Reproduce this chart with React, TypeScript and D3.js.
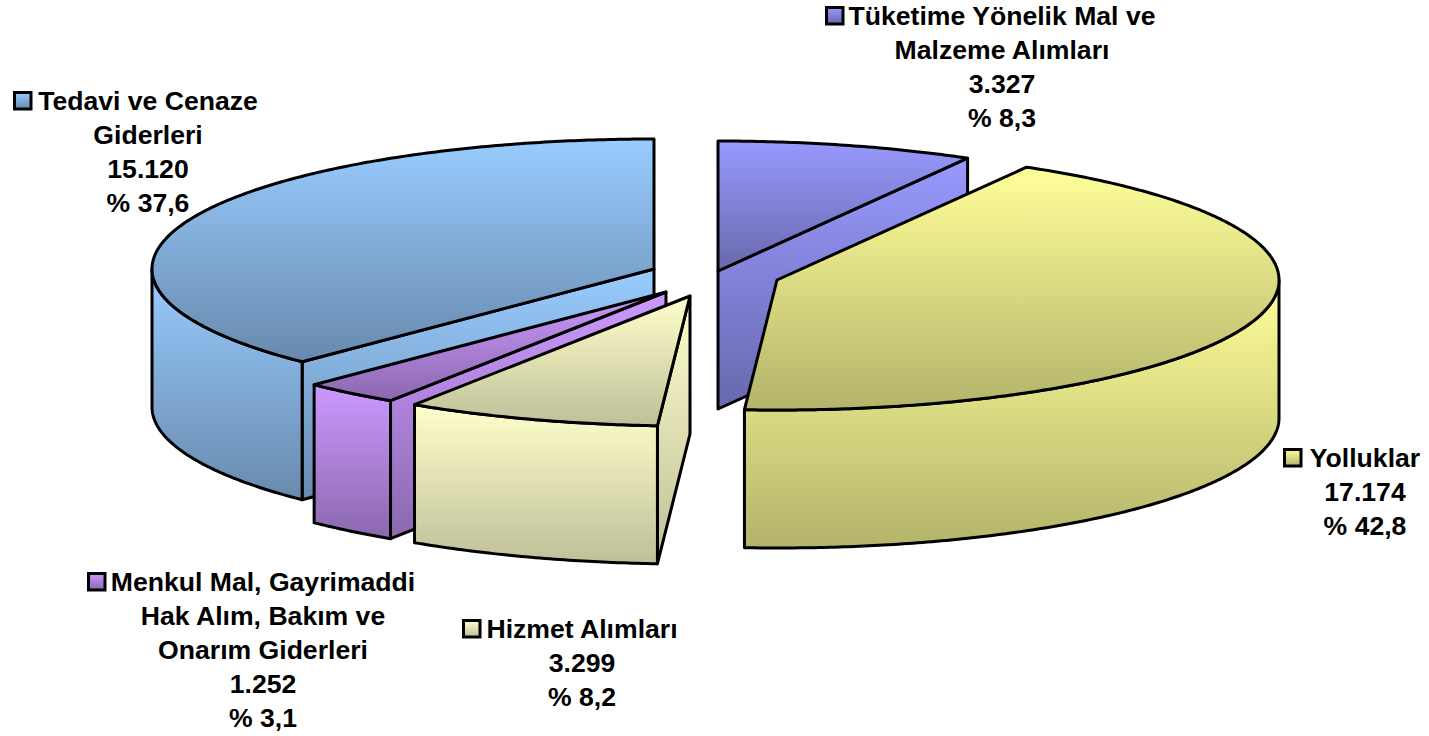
import React, {useRef, useEffect} from 'react';
import * as d3 from 'd3';

// chart values, in pie order (clockwise from 12 o'clock)
const categories = ['Tüketime Yönelik Mal ve Malzeme Alımları', 'Yolluklar', 'Hizmet Alımları', 'Menkul Mal, Gayrimaddi Hak Alım, Bakım ve Onarım Giderleri', 'Tedavi ve Cenaze Giderleri'];
const values = [3327, 17174, 3299, 1252, 15120];
const nameLines = [
    ['Tüketime Yönelik Mal ve', 'Malzeme Alımları'],
    ['Yolluklar'],
    ['Hizmet Alımları'],
    ['Menkul Mal, Gayrimaddi', 'Hak Alım, Bakım ve', 'Onarım Giderleri'],
    ['Tedavi ve Cenaze', 'Giderleri'],
];

// colours of the slices, top and bottom of the gradient
const colors = ['#9999FF', '#FFFF99', '#FFFFCC', '#CC99FF', '#99CCFF'];
const shades = ['#6868AD', '#B3B36B', '#BFBF99', '#8B68AE', '#6889AD'];

// each slice was pulled out by hand in the original, so the apex differs
const apexes = [[718, 271], [777, 280], [690, 296], [666, 292], [654, 269]];
// label: centre x, first baseline, legend key x
const labelPos = [[1002, 24, 826.5], [1365, 466, 1284.5], [582, 637, 463.5], [263, 590, 88.5], [148, 109, 14.5]];

const width = 1429, height = 736;
const rx = 502, ry = 130, depth = 138;
const lineHeight = 34;
const textDrop = 0.8;
const drawOrder = [0, 4, 1, 3, 2];

const trFormat = d3.formatLocale({decimal: ',', thousands: '.', grouping: [3], currency: ['', '']});

const App = () => {
    const svgRef = useRef<SVGSVGElement>(null);

    useEffect(() => {
        const svg = d3.select(svgRef.current);
        svg.selectAll('*').remove();

        const total = d3.sum(values);
        const arcs = d3.pie<number>().sort(null).startAngle(0).endAngle(2 * Math.PI)(values);
        const line = d3.line().curve(d3.curveLinear);
        const fmtValue = trFormat.format(',d');
        const fmtPct = trFormat.format('.1f');

        // vertical gradient for every slice
        const defs = svg.append('defs');
        colors.forEach((c, i) => {
            const grad = defs.append('linearGradient')
                .attr('id', 'grad' + i)
                .attr('x1', 0).attr('y1', 0).attr('x2', 0).attr('y2', 1);
            grad.append('stop').attr('offset', '0%').attr('stop-color', c);
            grad.append('stop').attr('offset', '100%').attr('stop-color', shades[i]);
        });

        const project = (i: number, a: number, drop = 0): [number, number] => [
            apexes[i][0] + rx * Math.sin(a),
            apexes[i][1] - ry * Math.cos(a) + drop,
        ];

        const sample = (a0: number, a1: number) => {
            const n = Math.max(2, Math.ceil((a1 - a0) / 0.01));
            return d3.range(n + 1).map(k => a0 + (a1 - a0) * k / n);
        };

        const face = (i: number, pts: [number, number][]) => {
            svg.append('path')
                .attr('d', line(pts) + 'Z')
                .attr('fill', `url(#grad${i})`)
                .attr('stroke', '#000')
                .attr('stroke-width', 3)
                .attr('stroke-linejoin', 'round');
        };

        drawOrder.forEach(i => {
            const {startAngle: a0, endAngle: a1} = arcs[i];
            const apex = apexes[i] as [number, number];
            const down = (p: [number, number]): [number, number] => [p[0], p[1] + depth];

            // cut walls, only the ones turned to the viewer
            if (Math.sin(a0) < -1e-6) {
                const p = project(i, a0);
                face(i, [apex, p, down(p), down(apex)]);
            }
            if (Math.sin(a1) > 1e-6) {
                const p = project(i, a1);
                face(i, [apex, p, down(p), down(apex)]);
            }

            // outer wall, front half of the ellipse only
            const from = Math.max(a0, Math.PI / 2), to = Math.min(a1, 3 * Math.PI / 2);
            if (to > from) {
                const rim = sample(from, to).map(a => project(i, a));
                face(i, [...rim, ...rim.map(down).reverse()]);
            }

            // top face
            face(i, [apex, ...sample(a0, a1).map(a => project(i, a))]);
        });

        // labels with their legend keys
        categories.forEach((name, i) => {
            const [cx, y0, keyX] = labelPos[i];
            const lines = [...nameLines[i], fmtValue(values[i]), '% ' + fmtPct(values[i] / total * 100)];
            const label = svg.append('text')
                .attr('aria-label', name)
                .attr('font-family', '"Liberation Sans", Arial, sans-serif')
                .attr('font-weight', 700)
                .attr('font-size', 26.6)
                .attr('text-anchor', 'middle')
                .attr('fill', '#000');
            lines.forEach((t, k) => {
                label.append('tspan').attr('x', cx).attr('y', y0 + textDrop + k * lineHeight).text(t);
            });
            svg.append('rect')
                .attr('x', keyX).attr('y', y0 - 16.5)
                .attr('width', 16.5).attr('height', 16.5)
                .attr('fill', `url(#grad${i})`)
                .attr('stroke', '#000')
                .attr('stroke-width', 3);
        });
    }, []);

    return <svg ref={svgRef} width={width} height={height} style={{position: 'absolute', left: 0, top: 0, background: '#fff'}}/>;
};

export default App;
